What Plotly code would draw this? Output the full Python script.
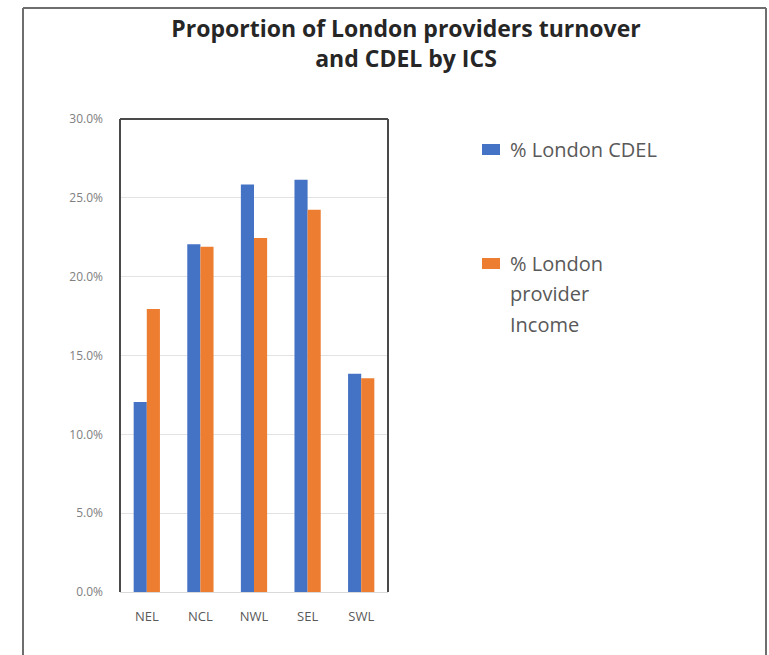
import plotly.graph_objects as go

# Integrated Care Systems and their shares of London totals (%)
ics = ["NEL", "NCL", "NWL", "SEL", "SWL"]
cdel_pct = [12.05, 22.05, 25.85, 26.15, 13.85]
income_pct = [17.95, 21.9, 22.45, 24.25, 13.55]
y_ticks = [0, 5, 10, 15, 20, 25, 30]
y_tick_text = [f"{v:.1f}%" for v in y_ticks]

BLUE = "#4472C4"
ORANGE = "#ED7D31"
TEXT_GREY = "#595959"

W, H = 769, 655
PL, PR, PT, PB = 120, 388, 119, 592  # plot area in pixels


def px(x):
    return (x - PL) / (PR - PL)


def py(y):
    return (PB - y) / (PB - PT)


fig = go.Figure()
fig.add_trace(go.Bar(x=ics, y=cdel_pct, name="% London CDEL",
                     marker=dict(color=BLUE, line=dict(width=0)), showlegend=False))
fig.add_trace(go.Bar(x=ics, y=income_pct, name="% London provider Income",
                     marker=dict(color=ORANGE, line=dict(width=0)), showlegend=False))

shapes = []
# outer chart frame
frame = dict(type="line", xref="paper", yref="paper",
             line=dict(color="#6e6e6e", width=2))
shapes.append(dict(frame, x0=px(23), x1=px(23), y0=py(8), y1=py(670)))
shapes.append(dict(frame, x0=px(23), x1=px(766), y0=py(8), y1=py(8)))
shapes.append(dict(frame, x0=px(766), x1=px(766), y0=py(8), y1=py(670)))
# plot-area border (left, top, right)
border = dict(type="line", xref="paper", yref="paper",
              line=dict(color="#4a4a4a", width=2))
shapes.append(dict(border, x0=0, x1=0, y0=0, y1=1))
shapes.append(dict(border, x0=0, x1=1, y0=1, y1=1))
shapes.append(dict(border, x0=1, x1=1, y0=0, y1=1))
# legend swatches
shapes.append(dict(type="rect", xref="paper", yref="paper", line=dict(width=0),
                   fillcolor=BLUE, x0=px(482), x1=px(500), y0=py(155), y1=py(144)))
shapes.append(dict(type="rect", xref="paper", yref="paper", line=dict(width=0),
                   fillcolor=ORANGE, x0=px(482), x1=px(500), y0=py(269), y1=py(258)))

annotations = []
leg_font = dict(family="Open Sans", size=20, color=TEXT_GREY)
for text, yc in [("% London CDEL", 149), ("% London", 263),
                 ("provider", 293), ("Income", 324)]:
    annotations.append(dict(text=text, xref="paper", yref="paper",
                            x=px(508), y=py(yc), xanchor="left", yanchor="middle",
                            showarrow=False, font=leg_font))

fig.update_layout(
    width=W, height=H,
    margin=dict(l=PL, r=W - PR, t=PT, b=H - PB, pad=0),
    paper_bgcolor="white", plot_bgcolor="white",
    title=dict(text="<b>Proportion of London providers turnover<br>and CDEL by ICS</b>",
               xref="container", yref="container",
               x=406 / W, xanchor="center", y=1 - 37 / H, yanchor="middle",
               font=dict(family="Open Sans", size=23, color="#262626")),
    barmode="group", bargap=0.51, bargroupgap=0,
    shapes=shapes, annotations=annotations,
    xaxis=dict(showgrid=False, showline=True, linecolor="#d9d9d9", linewidth=1,
               ticks="", tickfont=dict(family="Open Sans", size=13, color=TEXT_GREY),
               ticklabelstandoff=12),
    yaxis=dict(range=[0, 30], tickvals=y_ticks, ticktext=y_tick_text,
               showgrid=True, gridcolor="#e3e3e3", gridwidth=1, zeroline=False,
               showline=False, ticks="",
               tickfont=dict(family="Open Sans", size=12, color="#808080"),
               ticklabelstandoff=16),
)

fig.write_html("out.html")
